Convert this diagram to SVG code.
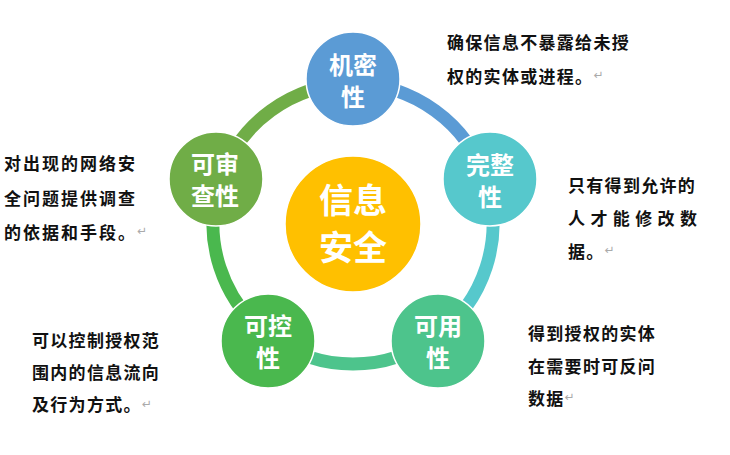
<svg xmlns="http://www.w3.org/2000/svg" width="730" height="455" viewBox="0 0 730 455">
<style>
.ring{fill:none;stroke-width:13}
.node{stroke:#fff;stroke-width:1.5}
.nt{font-family:"Noto Sans CJK SC","Noto Sans",sans-serif;font-weight:bold;fill:#fff;font-size:24px;text-anchor:middle;dominant-baseline:central}
.ct{font-size:34px}
.desc{font-family:"Noto Sans CJK SC","Noto Sans",sans-serif;font-weight:bold;fill:#111;font-size:17px;letter-spacing:1.3px;dominant-baseline:central}
.ret{font-family:"DejaVu Sans",sans-serif;font-weight:normal;fill:#aaa;font-size:12px;letter-spacing:0}
</style>
<rect width="730" height="455" fill="#fff"/>
<g id="connectors">
<path class="ring" stroke="#5B9BD5" d="M353 84 A140 140 0 0 1 486.1 180.7"/>
<path class="ring" stroke="#56C8CC" d="M486.1 180.7 A140 140 0 0 1 435.3 337.3"/>
<path class="ring" stroke="#4DC48C" d="M435.3 337.3 A140 140 0 0 1 270.7 337.3"/>
<path class="ring" stroke="#4AB84E" d="M270.7 337.3 A140 140 0 0 1 219.9 180.7"/>
<path class="ring" stroke="#70AD47" d="M219.9 180.7 A140 140 0 0 1 353 84"/>
</g>
<g id="center">
<circle class="node" cx="353" cy="224" r="68" fill="#FFC000"/>
<text class="nt ct" x="353" y="198">信息</text>
<text class="nt ct" x="353" y="245">安全</text>
</g>
<g id="n-confidentiality">
<circle class="node" cx="353" cy="79" r="47" fill="#5B9BD5"/>
<text class="nt" x="353" y="63">机密</text>
<text class="nt" x="353" y="95">性</text>
</g>
<g id="n-integrity">
<circle class="node" cx="490" cy="179" r="47" fill="#56C8CC"/>
<text class="nt" x="490" y="163">完整</text>
<text class="nt" x="490" y="195">性</text>
</g>
<g id="n-availability">
<circle class="node" cx="438" cy="341" r="47" fill="#4DC48C"/>
<text class="nt" x="438" y="324">可用</text>
<text class="nt" x="438" y="356">性</text>
</g>
<g id="n-controllability">
<circle class="node" cx="268" cy="341" r="47" fill="#4AB84E"/>
<text class="nt" x="268" y="324">可控</text>
<text class="nt" x="268" y="356">性</text>
</g>
<g id="n-auditability">
<circle class="node" cx="216" cy="179" r="47" fill="#70AD47"/>
<text class="nt" x="215" y="162">可审</text>
<text class="nt" x="215" y="194">查性</text>
</g>
<g id="d-confidentiality">
<text class="desc" x="447" y="41.5">确保信息不暴露给未授</text>
<text class="desc" x="447" y="75">权的实体或进程。<tspan class="ret">↵</tspan></text>
</g>
<g id="d-auditability">
<text class="desc" x="4" y="162" style="letter-spacing:2px">对出现的网络安</text>
<text class="desc" x="4" y="197" style="letter-spacing:2px">全问题提供调查</text>
<text class="desc" x="4" y="231" style="letter-spacing:2px">的依据和手段。<tspan class="ret">↵</tspan></text>
</g>
<g id="d-integrity">
<text class="desc" x="568" y="184">只有得到允许的</text>
<text class="desc" x="568" y="217" style="letter-spacing:5.4px">人才能修改数</text>
<text class="desc" x="568" y="250">据。<tspan class="ret">↵</tspan></text>
</g>
<g id="d-availability">
<text class="desc" x="528" y="332.5">得到授权的实体</text>
<text class="desc" x="528" y="365">在需要时可反问</text>
<text class="desc" x="528" y="397">数据<tspan class="ret">↵</tspan></text>
</g>
<g id="d-controllability">
<text class="desc" x="32" y="339.5">可以控制授权范</text>
<text class="desc" x="32" y="371.5">围内的信息流向</text>
<text class="desc" x="32" y="403.5">及行为方式。<tspan class="ret">↵</tspan></text>
</g>
</svg>
